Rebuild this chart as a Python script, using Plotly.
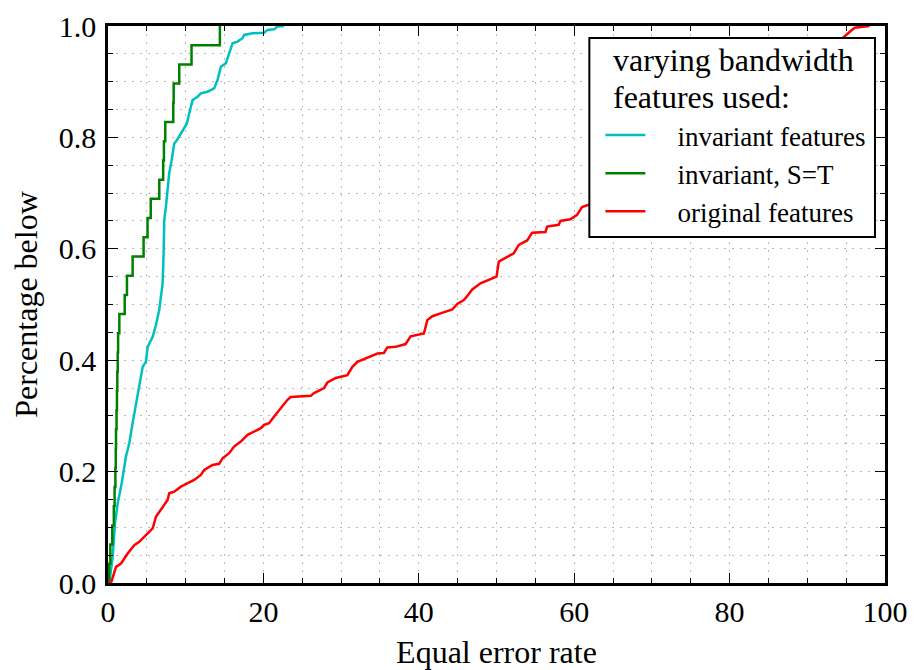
import plotly.graph_objects as go

# Equal error rate (x) vs. fraction of cases at or below it (y)
inv_x = [0.0, 0.17, 0.60, 0.90, 1.25, 1.76, 2.31, 2.74, 3.17, 3.60, 4.02, 4.46, 4.88, 5.10,
         5.75, 6.17, 6.59, 6.90, 7.03, 7.16, 7.24, 7.46, 7.67, 7.88, 8.19, 8.52, 8.87, 9.38,
         9.81, 10.15, 10.45, 10.67, 10.89, 11.53, 11.95, 12.81, 13.66, 14.10, 14.52, 15.17,
         15.59, 16.03, 16.67, 17.31, 17.52, 18.60, 20.09, 20.53, 21.38, 21.81, 22.66]
inv_y = [0.0, 0.0, 0.047, 0.107, 0.143, 0.179, 0.227, 0.251, 0.287, 0.323, 0.352, 0.388, 0.397, 0.424,
         0.442, 0.463, 0.490, 0.526, 0.538, 0.592, 0.652, 0.676, 0.711, 0.736, 0.759, 0.789, 0.795, 0.807,
         0.819, 0.825, 0.843, 0.855, 0.867, 0.873, 0.879, 0.882, 0.888, 0.903, 0.927, 0.933,
         0.951, 0.969, 0.972, 0.978, 0.984, 0.987, 0.988, 0.993, 0.994, 0.999, 1.0]

# S=T run: 29 sorted error rates, plotted as an empirical CDF staircase
st_eer = [0.15, 0.30, 0.55, 0.75, 0.85, 0.95, 1.00, 1.03, 1.10, 1.15, 1.20, 1.25, 1.30, 1.46,
          2.15, 2.44, 3.17, 4.58, 5.09, 5.50, 6.60, 7.10, 7.20, 7.37, 8.40, 8.45, 9.17, 10.75, 14.40]

orig_x = [0.0, 0.39, 1.03, 1.67, 2.53, 3.38, 4.02, 4.88, 5.75, 6.17, 7.03, 7.67, 7.88, 8.52, 9.38,
          10.24, 11.09, 11.95, 12.38, 13.46, 14.31, 14.74, 15.59, 16.23, 17.09, 17.96, 18.80, 19.67,
          20.09, 20.73, 21.38, 22.24, 23.10, 23.52, 26.09, 26.52, 27.80, 28.24, 29.31, 30.81, 31.45,
          32.10, 33.59, 34.67, 35.51, 35.95, 37.02, 38.30, 38.95, 40.66, 41.09, 41.74, 42.80, 44.31,
          44.95, 45.80, 46.44, 46.88, 47.94, 49.23, 50.00, 50.30, 51.38, 52.22, 52.87, 53.95, 54.59,
          56.30, 56.52, 58.00, 58.23, 59.51, 60.37, 61.00, 61.87, 66.0, 72.0, 78.0, 84.0, 89.0,
          94.6, 95.5, 96.1, 98.0]
orig_y = [0.0, 0.0, 0.029, 0.035, 0.053, 0.068, 0.074, 0.086, 0.098, 0.119, 0.137, 0.149, 0.161, 0.164, 0.173,
          0.179, 0.185, 0.194, 0.203, 0.212, 0.214, 0.224, 0.233, 0.245, 0.254, 0.266, 0.272, 0.278,
          0.284, 0.287, 0.299, 0.314, 0.329, 0.334, 0.336, 0.341, 0.350, 0.360, 0.368, 0.373, 0.388,
          0.397, 0.406, 0.412, 0.413, 0.423, 0.424, 0.429, 0.443, 0.448, 0.472, 0.479, 0.484, 0.491,
          0.501, 0.508, 0.519, 0.527, 0.538, 0.545, 0.550, 0.577, 0.586, 0.592, 0.607, 0.615, 0.629,
          0.630, 0.640, 0.643, 0.650, 0.653, 0.661, 0.675, 0.679, 0.710, 0.765, 0.820, 0.875, 0.925,
          0.979, 0.990, 0.997, 1.0]

x_ticks = [0, 20, 40, 60, 80, 100]
y_ticks = [0.0, 0.2, 0.4, 0.6, 0.8, 1.0]

legend_heading = ["varying bandwidth", "features used:"]

n_st = len(st_eer)
st_x = [0.0] + st_eer
st_y = [0.0] + [(i + 1) / n_st for i in range(n_st)]

SERIF = "Liberation Serif"
GRID = "#b8b8b8"
PAD = "\u00a0" * 4  # gap between legend line sample and its label
LW = 2.5

fig = go.Figure()
fig.add_trace(go.Scatter(x=inv_x, y=inv_y, mode="lines", name=PAD + "invariant features",
                         legendgroup="a", line=dict(color="#00bfbf", width=LW)))
fig.add_trace(go.Scatter(x=st_x, y=st_y, mode="lines", name=PAD + "invariant, S=T",
                         legendgroup="b", line=dict(color="#008000", width=LW, shape="hv")))
fig.add_trace(go.Scatter(x=orig_x, y=orig_y, mode="lines", name=PAD + "original features",
                         legendgroup="c", line=dict(color="#ff0000", width=LW)))

axis_common = dict(
    showline=True, linecolor="black", linewidth=2.5, mirror="allticks",
    ticks="inside", ticklen=10, tickwidth=1, tickcolor="black",
    showgrid=True, gridcolor=GRID, griddash="2px,6px", gridwidth=1,
    zeroline=False, automargin=False,
    tickfont=dict(family=SERIF, size=30, color="black"),
    title_font=dict(family=SERIF, size=32, color="black"),
)
minor_common = dict(ticks="inside", ticklen=5, tickwidth=1, tickcolor="black",
                    showgrid=True, gridcolor=GRID, griddash="2px,6px", gridwidth=1)

fig.update_xaxes(
    range=[0, 100], tickvals=x_ticks, ticktext=[str(v) for v in x_ticks],
    minor=dict(dtick=5, tick0=0, **minor_common),
    title_text="Equal error rate", title_standoff=15,
    **axis_common,
)
fig.update_yaxes(
    range=[0, 1], tickvals=y_ticks, ticktext=[f"{v:.1f}" for v in y_ticks],
    minor=dict(dtick=0.05, tick0=0, **minor_common),
    title_text="Percentage below", title_standoff=12, ticklabelstandoff=3,
    **axis_common,
)

# Legend frame: opaque box drawn over the curves, with a two-line heading
fig.add_shape(type="rect", xref="paper", yref="paper",
              x0=0.6195, x1=0.9871, y0=0.6212, y1=0.9785,
              fillcolor="white", line=dict(color="black", width=2), layer="above")
for text, yc in zip(legend_heading, [0.9390, 0.8726]):
    fig.add_annotation(text=text, xref="paper", yref="paper", x=0.649, y=yc,
                       xanchor="left", yanchor="middle", showarrow=False, borderpad=0,
                       font=dict(family=SERIF, size=32, color="black"))

fig.update_layout(
    width=917, height=670,
    margin=dict(l=108, r=32, t=26, b=87),
    paper_bgcolor="white", plot_bgcolor="white",
    showlegend=True,
    legend=dict(
        x=0.6337, y=0.8474, xanchor="left", yanchor="top",
        bgcolor="rgba(0,0,0,0)", borderwidth=0,
        font=dict(family=SERIF, size=27, color="black"),
        traceorder="grouped", tracegroupgap=0, itemwidth=40,
    ),
)

fig.write_html("out.html")
